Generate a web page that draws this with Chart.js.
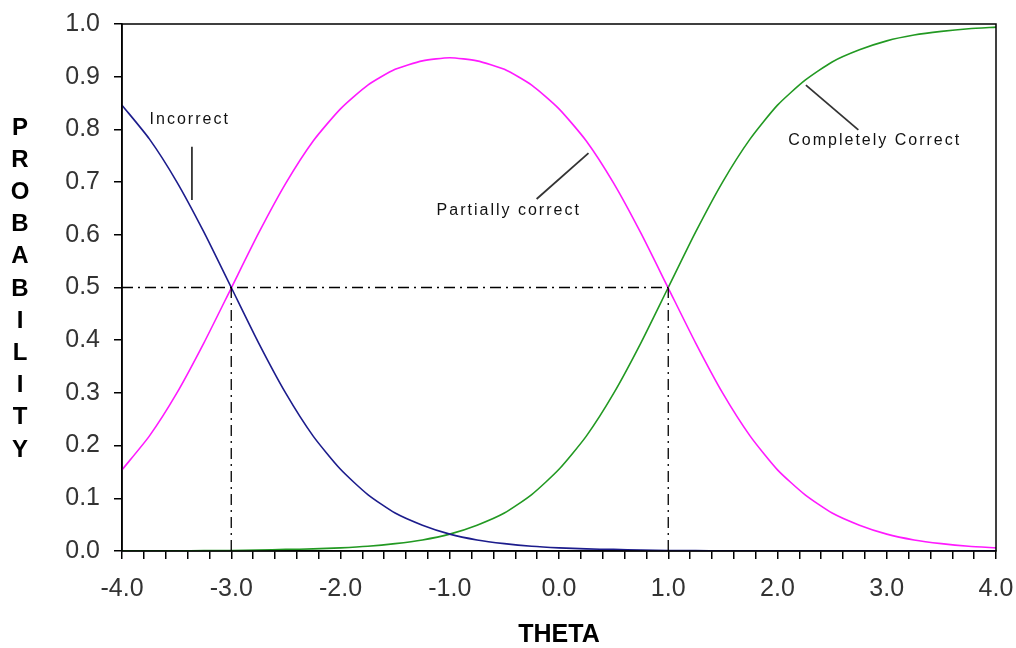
<!DOCTYPE html>
<html>
<head>
<meta charset="utf-8">
<script src="https://cdn.jsdelivr.net/npm/chart.js@4.4.1/dist/chart.umd.min.js"></script>
<style>
    html, body { margin: 0; padding: 0; background: #fff; }
    #wrap { width: 1016px; height: 648px; }
</style>
</head>
<body>
<div id="wrap"><canvas id="probChart" width="1016" height="648"></canvas></div>
<script>
// theta values (x axis)
const theta = [-4, -3.75, -3.5, -3.25, -3, -2.75, -2.5, -2.25, -2, -1.75, -1.5, -1.25, -1,
    -0.75, -0.5, -0.25, 0, 0.25, 0.5, 0.75, 1, 1.25, 1.5, 1.75, 2, 2.25, 2.5, 2.75, 3,
    3.25, 3.5, 3.75, 4];

// probabilities
const incorrect = [0.846, 0.782, 0.701, 0.605, 0.500, 0.395, 0.299, 0.218, 0.155, 0.107,
    0.072, 0.049, 0.032, 0.021, 0.014, 0.009, 0.006, 0.004, 0.003, 0.002, 0.001, 0.001,
    0.000, 0.000, 0.000, 0.000, 0.000, 0.000, 0.000, 0.000, 0.000, 0.000, 0.000];
const partial = [0.154, 0.218, 0.299, 0.395, 0.499, 0.603, 0.698, 0.778, 0.839, 0.884,
    0.914, 0.930, 0.936, 0.930, 0.914, 0.884, 0.839, 0.778, 0.698, 0.603, 0.499, 0.395,
    0.299, 0.218, 0.154, 0.107, 0.072, 0.049, 0.032, 0.021, 0.014, 0.009, 0.006];
const complete = [0.000, 0.000, 0.000, 0.001, 0.001, 0.002, 0.003, 0.004, 0.006, 0.009,
    0.014, 0.021, 0.032, 0.049, 0.072, 0.107, 0.155, 0.218, 0.299, 0.395, 0.500, 0.605,
    0.701, 0.782, 0.846, 0.893, 0.928, 0.951, 0.968, 0.979, 0.986, 0.991, 0.994];

// dash-dot reference lines at P = 0.5
const refHoriz = [[-4, 0.5], [1, 0.5]];
const refVertA = [[-3, 0], [-3, 0.5]];
const refVertB = [[1, 0], [1, 0.5]];

// curve labels and their leader lines
const labels = [
    { text: 'Incorrect', x: -3.38, y: 0.818 },
    { text: 'Partially correct', x: -0.46, y: 0.645 },
    { text: 'Completely Correct', x: 2.89, y: 0.778 }
];
const leaders = [
    [[-3.36, 0.767], [-3.36, 0.666]],
    [[-0.205, 0.668], [0.27, 0.755]],
    [[2.26, 0.884], [2.74, 0.799]]
];

const yTitle = ['P', 'R', 'O', 'B', 'A', 'B', 'I', 'L', 'I', 'T', 'Y'];
const xTitle = 'THETA';

function toPoints(xs, ys) {
    return xs.map((x, i) => ({ x: x, y: ys[i] }));
}
function pairPoints(pairs) {
    return pairs.map(p => ({ x: p[0], y: p[1] }));
}

function curve(label, values, color) {
    return {
        label: label,
        data: toPoints(theta, values),
        borderColor: color,
        borderWidth: 1.6,
        pointRadius: 0,
        tension: 0.2,
        fill: false
    };
}
function refLine(pairs) {
    return {
        data: pairPoints(pairs),
        borderColor: '#000',
        borderWidth: 1.3,
        borderDash: [11, 5, 2, 5],
        pointRadius: 0,
        fill: false
    };
}

const datasets = [
    refLine(refHoriz),
    refLine(refVertA),
    refLine(refVertB),
    curve('Incorrect', incorrect, '#1c1c8c'),
    curve('Partially correct', partial, '#ff1aff'),
    curve('Completely Correct', complete, '#229922')
];
leaders.forEach(l => {
    datasets.push({
        data: pairPoints(l),
        borderColor: '#333',
        borderWidth: 1.8,
        pointRadius: 0,
        fill: false
    });
});

const extras = {
    id: 'extras',
    afterDraw(chart) {
        const c = chart.ctx;
        const a = chart.chartArea;
        const xs = chart.scales.x;
        const ys = chart.scales.y;
        c.save();
        // frame
        c.strokeStyle = '#000';
        c.lineWidth = 1.5;
        c.strokeRect(a.left, a.top, a.right - a.left, a.bottom - a.top);
        // curve labels
        c.fillStyle = '#111';
        c.font = '16px "Liberation Sans", Arial, sans-serif';
        c.letterSpacing = '2px';
        c.textAlign = 'center';
        c.textBaseline = 'middle';
        labels.forEach(l => {
            c.fillText(l.text, xs.getPixelForValue(l.x), ys.getPixelForValue(l.y));
        });
        c.letterSpacing = '0px';
        // axis titles
        c.fillStyle = '#000';
        c.font = 'bold 24px "Liberation Sans", Arial, sans-serif';
        yTitle.forEach((ch, i) => {
            c.fillText(ch, 20, 128 + i * 32.2);
        });
        c.font = 'bold 25px "Liberation Sans", Arial, sans-serif';
        c.fillText(xTitle, (a.left + a.right) / 2, 635);
        c.restore();
    }
};

new Chart(document.getElementById('probChart').getContext('2d'), {
    type: 'line',
    data: { datasets: datasets },
    plugins: [extras],
    options: {
        responsive: false,
        animation: false,
        layout: { padding: { top: 24, right: 20, left: 0, bottom: 0 } },
        plugins: {
            legend: { display: false },
            tooltip: { enabled: false }
        },
        scales: {
            x: {
                type: 'linear',
                min: -4,
                max: 4,
                afterFit: s => { s.height = 97; s.paddingLeft = 0; s.paddingRight = 0; },
                border: { color: '#000', width: 1.5 },
                grid: { drawOnChartArea: false, drawTicks: true, tickLength: 8, color: '#000', lineWidth: 1.5 },
                ticks: {
                    stepSize: 0.2,
                    autoSkip: false,
                    maxRotation: 0,
                    padding: 15,
                    color: '#333',
                    font: { size: 25, family: '"Liberation Sans", Arial, sans-serif' },
                    callback: v => Math.abs(v - Math.round(v)) < 1e-6 ? Math.round(v).toFixed(1) : ''
                }
            },
            y: {
                min: 0,
                max: 1,
                afterFit: s => { s.width = 122; s.paddingTop = 0; s.paddingBottom = 0; },
                border: { color: '#000', width: 1.5 },
                grid: { drawOnChartArea: false, drawTicks: true, tickLength: 8, color: '#000', lineWidth: 1.5 },
                ticks: {
                    stepSize: 0.1,
                    padding: 14,
                    color: '#333',
                    font: { size: 25, family: '"Liberation Sans", Arial, sans-serif' },
                    callback: v => v.toFixed(1)
                }
            }
        }
    }
});
</script>
</body>
</html>
